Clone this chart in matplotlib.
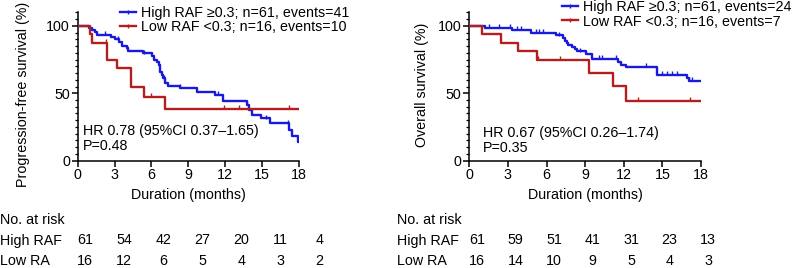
import matplotlib
matplotlib.use("Agg")
import matplotlib.pyplot as plt
from matplotlib.lines import Line2D
from matplotlib.ticker import MultipleLocator

plt.rcParams['font.family'] = ['Liberation Sans', 'DejaVu Sans']

# Progression-free survival (left panel)
pfs_high_t = [0, 0.95, 1.14, 1.41, 1.55, 2.71, 3.04, 3.39, 3.58, 3.99, 4.12, 5.34, 6.02, 6.21, 6.43,
              6.59, 6.70, 6.83, 6.97, 7.10, 7.38, 8.30, 9.68, 11.20, 11.85, 13.75, 13.90, 14.20,
              14.90, 15.65, 17.15, 17.40, 17.95, 18]
pfs_high_s = [100, 98.4, 96.7, 95.1, 93.4, 91.8, 90.1, 88.1, 85.2, 83.2, 81.5, 79.5, 77.8, 74.6, 72.8,
              70.9, 65.9, 63.5, 61.0, 57.3, 55.7, 54.1, 50.8, 48.7, 44.3, 41.3, 37.5, 33.8,
              31.4, 27.7, 22.7, 18.3, 14.0, 14.0]
pfs_high_cens = [2.2, 3.3, 4.0, 5.4, 7.0, 8.3, 11.4, 13.75, 15.3, 17.1]

pfs_low_t = [0, 1.0, 1.2, 2.4, 3.2, 4.3, 5.4, 7.1, 18]
pfs_low_s = [100, 93.75, 87.5, 75.0, 68.75, 54.5, 47.4, 38.3, 38.3]
pfs_low_cens = [2.3, 6.0, 11.9, 13.1, 17.2]

# Overall survival (right panel)
os_high_t = [0, 1.22, 3.3, 4.8, 6.74, 7.3, 7.43, 7.56, 7.69, 7.95, 8.2, 8.4, 9.1, 9.5, 11.57,
             11.75, 12.2, 14.56, 16.9, 17.1, 18]
os_high_s = [100, 98.4, 96.8, 94.6, 92.9, 91.0, 89.0, 87.4, 85.7, 84.3, 82.6, 81.0, 79.0, 75.5, 73.1,
             71.3, 69.5, 63.6, 61.2, 59.3, 59.3]
os_high_cens = [1.55, 2.33, 3.16, 3.73, 4.0, 5.18, 5.44, 5.75, 7.0, 8.6, 10.1, 10.3, 11.4, 13.73,
                14.95, 15.34, 15.73, 16.1, 17.1, 17.28]

os_low_t = [0, 1.0, 2.43, 3.8, 5.23, 9.33, 11.2, 12.15, 18]
os_low_s = [100, 93.75, 87.5, 81.25, 75.0, 65.0, 55.7, 44.5, 44.5]
os_low_cens = [5.35, 7.05, 13.1, 17.15]

# numbers at risk
risk_times = [0, 3, 6, 9, 12, 15, 18]
pfs_risk_high = [61, 54, 42, 27, 20, 11, 4]
pfs_risk_low = [16, 12, 6, 5, 4, 3, 2]
os_risk_high = [61, 59, 51, 41, 31, 23, 13]
os_risk_low = [16, 14, 10, 9, 5, 4, 3]

pfs_labels = ["High RAF \u22650.3; n=61, events=41", "Low RAF <0.3; n=16, events=10"]
os_labels = ["High RAF \u22650.3; n=61, events=24", "Low RAF <0.3; n=16, events=7"]
pfs_stats = "HR 0.78 (95%CI 0.37\u20131.65)\nP=0.48"
os_stats = "HR 0.67 (95%CI 0.26\u20131.74)\nP=0.35"

BLUE = '#1a1adc'
RED = '#b41e1e'
FS = 10.3
W, H = 796, 268


def surv_at(t_list, s_list, x):
    v = s_list[0]
    for t, s in zip(t_list, s_list):
        if t <= x:
            v = s
    return v


def km(ax, t, s, cens, color):
    ax.step(t, s, where='post', color=color, lw=1.7, zorder=3)
    cy = [surv_at(t, s, c) for c in cens]
    ax.plot(cens, [y + 1.2 for y in cy], ls='none', marker='|', ms=3.5, mew=1.0, color=color, zorder=3)


def setup(ax, ylabel, label_x, label_y):
    ax.set_xlim(0, 18)
    ax.set_ylim(0, 110)
    ax.set_xticks([0, 3, 6, 9, 12, 15, 18])
    ax.set_yticks([0, 50, 100])
    ax.yaxis.set_minor_locator(MultipleLocator(5))
    for sp in ['top', 'right']:
        ax.spines[sp].set_visible(False)
    for sp in ['left', 'bottom']:
        ax.spines[sp].set_linewidth(1.1)
    ax.tick_params(which='major', direction='out', length=4, width=1.1, labelsize=FS, pad=1.5)
    ax.tick_params(which='minor', direction='out', length=2.5, width=0.9)
    ax.set_ylabel(ylabel, fontsize=FS)
    ax.yaxis.set_label_coords(label_x, label_y)
    ax.set_xlabel("Duration (months)", fontsize=FS)
    ax.xaxis.set_label_coords(0.5, -0.185)


fig = plt.figure(figsize=(W / 100, H / 100), dpi=100)
ax1 = fig.add_axes([77.7 / W, 107.3 / H, 221.3 / W, 148.4 / H])
ax2 = fig.add_axes([469.3 / W, 107.3 / H, 231.7 / W, 148.4 / H])

km(ax1, pfs_high_t, pfs_high_s, pfs_high_cens, BLUE)
km(ax1, pfs_low_t, pfs_low_s, pfs_low_cens, RED)
km(ax2, os_high_t, os_high_s, os_high_cens, BLUE)
km(ax2, os_low_t, os_low_s, os_low_cens, RED)

setup(ax1, "Progression-free survival (%)", -0.215, 0.45)
setup(ax2, "Overall survival (%)", -0.175, 0.51)

ax1.text(0.4, 16.5, pfs_stats, fontsize=FS, va='center', linespacing=1.15)
ax2.text(1.05, 15.0, os_stats, fontsize=FS, va='center', linespacing=1.15)


def legend(labels, x, y):
    handles = [Line2D([], [], color=c, lw=1.7, marker='|', ms=3.5, mew=1.0) for c in (BLUE, RED)]
    fig.legend(handles, labels, loc='upper left', bbox_to_anchor=(x, y), frameon=False,
               fontsize=FS, handlelength=1.1, handletextpad=0.35, labelspacing=0.0,
               borderpad=0, borderaxespad=0)


legend(pfs_labels, 120 / W, 1 - 6 / H)
legend(os_labels, 562 / W, 1 - 0.5 / H)


def risk_table(x_label, x0, dx, high, low):
    rows_y = [1 - 220 / H, 1 - 240.5 / H, 1 - 261 / H]
    fig.text(x_label / W, rows_y[0], "No. at risk", fontsize=FS, va='center')
    fig.text(x_label / W, rows_y[1], "High RAF", fontsize=FS, va='center')
    fig.text(x_label / W, rows_y[2], "Low RA", fontsize=FS, va='center')
    for i in range(len(risk_times)):
        fig.text((x0 + dx * i) / W, rows_y[1], str(high[i]), fontsize=FS, va='center', ha='center')
        fig.text((x0 + dx * i) / W, rows_y[2], str(low[i]), fontsize=FS, va='center', ha='center')


risk_table(0, 85, 39.1, pfs_risk_high, pfs_risk_low)
risk_table(397, 477, 38.5, os_risk_high, os_risk_low)

fig.savefig("out.png", dpi=100)
